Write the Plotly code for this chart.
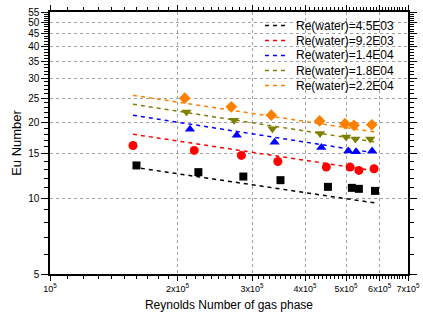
import plotly.graph_objects as go

# ---- data ----
names = ["Re(water)=4.5E03", "Re(water)=9.2E03", "Re(water)=1.4E04",
         "Re(water)=1.8E04", "Re(water)=2.2E04"]
colors = ["#000000", "#FF0000", "#0000FF", "#808000", "#FF8000"]
symbols = ["square", "circle", "triangle-up", "triangle-down", "diamond"]

x_black = [1.60e5, 2.24e5, 2.86e5, 3.50e5, 4.53e5, 5.16e5, 5.36e5, 5.85e5]
y_black = [13.5, 12.7, 12.2, 11.8, 11.1, 11.0, 10.9, 10.7]
x_red = [1.57e5, 2.19e5, 2.83e5, 3.45e5, 4.49e5, 5.11e5, 5.36e5, 5.82e5]
y_red = [16.2, 15.5, 14.8, 14.0, 13.3, 13.3, 12.9, 13.1]
x_blue = [2.14e5, 2.76e5, 3.39e5, 4.37e5, 5.06e5, 5.28e5, 5.76e5]
y_blue = [18.8, 17.8, 16.7, 15.9, 15.4, 15.3, 15.4]
x_olive = [2.10e5, 2.72e5, 3.35e5, 4.34e5, 5.00e5, 5.26e5, 5.70e5]
y_olive = [22.0, 20.4, 18.9, 18.1, 17.5, 17.2, 17.2]
x_orange = [2.08e5, 2.68e5, 3.33e5, 4.33e5, 4.97e5, 5.22e5, 5.75e5]
y_orange = [25.0, 23.1, 21.4, 20.3, 19.8, 19.5, 19.6]

# fitted (power-law) lines, end points
fit_x = [1.57e5, 5.90e5]
fit_black = [13.3, 9.56]
fit_red = [17.97, 12.82]
fit_blue = [21.38, 15.10]
fit_olive = [23.65, 16.71]
fit_orange = [25.66, 18.30]

x_tickvals = [1e5, 2e5, 3e5, 4e5, 5e5, 6e5, 7e5]
x_ticktext = ["10<sup>5</sup>", "2x10<sup>5</sup>", "3x10<sup>5</sup>", "4x10<sup>5</sup>",
              "5x10<sup>5</sup>", "6x10<sup>5</sup>", "7x10<sup>5</sup>"]
y_tickvals = [5, 10, 15, 20, 25, 30, 35, 40, 45, 50, 55]
x_minor = [v * 1e4 for v in range(10, 71) if v % 10 != 0]
y_minor = [v for v in range(5, 56) if v % 5 != 0]

xs = [x_black, x_red, x_blue, x_olive, x_orange]
ys = [y_black, y_red, y_blue, y_olive, y_orange]
fits = [fit_black, fit_red, fit_blue, fit_olive, fit_orange]
msizes = [8, 9, 9, 9, 9]

# plot-area geometry (pixels)
W, H = 423, 322
ML, MR, MT, MB = 50, 15, 12, 48
PW, PH = W - ML - MR, H - MT - MB

def px_x(p):
    return (p - ML) / PW

def px_y(p):
    return (H - MB - p) / PH

fig = go.Figure()
for i in range(5):
    fig.add_trace(go.Scatter(
        x=fit_x, y=fits[i], mode="lines", name=names[i], showlegend=False,
        line=dict(color=colors[i], width=1.5, dash="4px,4px")))
for i in range(5):
    fig.add_trace(go.Scatter(
        x=xs[i], y=ys[i], mode="markers", showlegend=False,
        marker=dict(symbol=symbols[i], color=colors[i], size=msizes[i], line=dict(width=0))))

shapes = [dict(type="rect", xref="paper", yref="paper",
               x0=px_x(257), x1=px_x(406), y0=px_y(96), y1=px_y(13),
               fillcolor="white", line=dict(width=0), layer="between")]
annotations = []
for i in range(5):
    yy = px_y(25.5 + 15 * i)
    shapes.append(dict(type="line", xref="paper", yref="paper",
                       x0=px_x(265), x1=px_x(289), y0=yy, y1=yy,
                       line=dict(color=colors[i], width=1.5, dash="4px,4px"), layer="above"))
    annotations.append(dict(text=names[i], xref="paper", yref="paper",
                            x=px_x(294), y=yy, xanchor="left", yanchor="middle",
                            showarrow=False, font=dict(size=12, color="black")))

fig.update_layout(
    width=W, height=H,
    margin=dict(l=ML, r=MR, t=MT, b=MB),
    paper_bgcolor="white", plot_bgcolor="white",
    font=dict(family="Liberation Sans, Arial, sans-serif", color="black"),
    showlegend=False,
    shapes=shapes, annotations=annotations,
)
fig.update_xaxes(
    type="log", range=[5, 5.845098], tickmode="array",
    tickvals=x_tickvals, ticktext=x_ticktext, tickangle=0, automargin=False,
    tickfont=dict(size=9),
    ticks="outside", ticklen=5, tickwidth=1, tickcolor="black",
    minor=dict(tickmode="array", tickvals=x_minor, ticks="outside", ticklen=3,
               tickcolor="black", showgrid=False),
    showline=True, linecolor="black", linewidth=1.5, mirror="ticks",
    showgrid=True, gridcolor="#a0a0a0", griddash="dot", gridwidth=1,
    title=dict(text="Reynolds Number of gas phase", font=dict(size=12), standoff=8),
    zeroline=False,
)
fig.update_yaxes(
    type="log", range=[0.69897, 1.7403627], tickmode="array",
    tickvals=y_tickvals, ticktext=[str(v) for v in y_tickvals], automargin=False,
    tickfont=dict(size=10),
    ticks="outside", ticklen=7, tickwidth=1, tickcolor="black",
    minor=dict(tickmode="array", tickvals=y_minor, ticks="outside", ticklen=4,
               tickcolor="black", showgrid=False),
    showline=True, linecolor="black", linewidth=1.5, mirror="ticks",
    showgrid=True, gridcolor="#a0a0a0", griddash="dot", gridwidth=1,
    title=dict(text="Eu Number", font=dict(size=13), standoff=4),
    zeroline=False,
)
# the page's default body margin would push the 423x322 figure past the window edge
fig.write_html("out.html", config={"displayModeBar": False},
               post_script="document.body.style.margin='0px';")
